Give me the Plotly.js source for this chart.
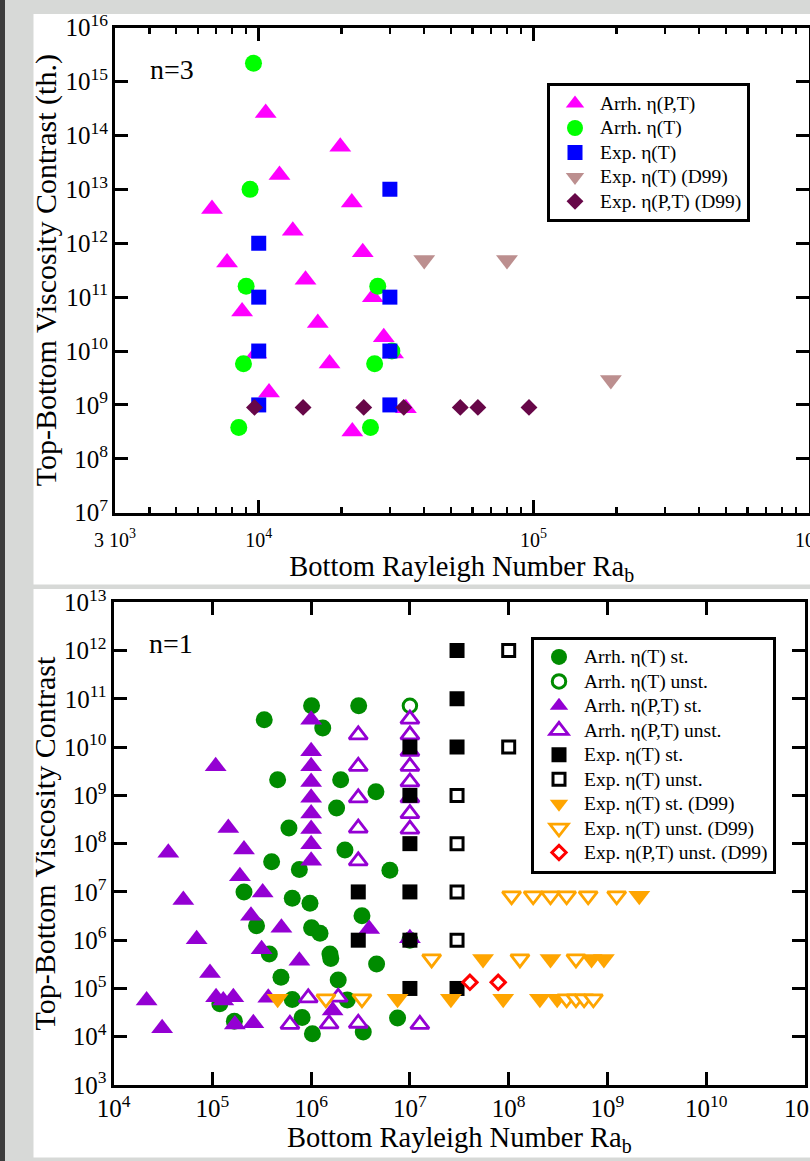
<!DOCTYPE html>
<html>
<head>
<meta charset="utf-8">
<script src="https://cdn.plot.ly/plotly-3.0.1.min.js"></script>
<style>
html,body{margin:0;padding:0;background:#d7d9d7;}
#chart{width:810px;height:1161px;}
</style>
</head>
<body>
<div id="chart"></div>
<script>
// ---------------- DATA : n = 3 (top panel) ----------------
const n3_arrhPT_ra   = [10600, 19800, 11900, 6760, 21800, 13300, 23900, 7670, 14800, 26000, 8700, 16400, 28500, 9800, 30800, 18100, 10900, 34300, 21900];
const n3_arrhPT_visc = [2.6e14, 6.2e13, 1.85e13, 4.3e12, 5.7e12, 1.7e12, 6.8e11, 4.4e11, 2.1e11, 1.0e11, 5.4e10, 3.3e10, 1.8e10, 9.0e9, 9.0e9, 5.9e9, 1.7e9, 8.7e8, 3.2e8];

const n3_arrhT_ra    = [9570, 9300, 9000, 27100, 30500, 8800, 26400, 8460, 25500];
const n3_arrhT_visc  = [2.2e15, 1.0e13, 1.6e11, 1.6e11, 1.0e10, 5.8e9, 5.8e9, 3.8e8, 3.8e8];

const n3_expT_ra     = [1e4, 1e4, 1e4, 1e4, 3e4, 3e4, 3e4, 3e4];
const n3_expT_visc   = [1e12, 1e11, 1e10, 1e9, 1e13, 1e11, 1e10, 1e9];

const n3_expTD99_ra   = [40000, 80000, 191000];
const n3_expTD99_visc = [4.9e11, 4.9e11, 2.9e9];

const n3_expPTD99_ra   = [9650, 14500, 24100, 33700, 54100, 62700, 96200];
const n3_expPTD99_visc = [9e8, 9e8, 9e8, 9e8, 9e8, 9e8, 9e8];

// ---------------- DATA : n = 1 (bottom panel) ----------------
const n1_arrhT_st_ra   = [3.35e5, 1.01e6, 1.31e6, 3.03e6, 4.58e5, 1.99e6, 4.53e6, 1.81e6, 5.96e5, 3.98e5, 7.6e5, 2.2e6, 6.27e6, 2.09e5, 6.44e5, 9.73e5, 3.27e6, 2.8e5, 1.01e6, 1.23e6, 1e7, 3.77e5, 1.55e6, 1.58e6, 4.6e6, 4.95e5, 1.88e6, 1.19e5, 6.44e5, 2.32e6, 8.1e5, 7.5e6, 1.67e5, 1.03e6, 3.37e6];
const n1_arrhT_st_visc = [3.7e10, 7.2e10, 2.5e10, 7.2e10, 2.1e9, 2.1e9, 1.19e9, 5.5e8, 2.1e8, 4.2e7, 2.9e7, 7.4e7, 2.8e7, 1e7, 7.4e6, 5.8e6, 3.2e6, 2.0e6, 1.8e6, 1.4e6, 1e6, 5.2e5, 5.2e5, 4.2e5, 3.2e5, 1.7e5, 1.5e5, 4.8e4, 5.9e4, 5.8e4, 2.5e4, 2.45e4, 2.1e4, 1.15e4, 1.25e4];

const n1_arrhT_un_ra   = [1e7];
const n1_arrhT_un_visc = [7.2e10];

const n1_arrhPT_st_ra   = [1e6, 1e6, 1e6, 1e6, 1e6, 1e6, 1e6, 1e6, 1e6, 1.08e5, 1.45e5, 3.58e4, 2.09e5, 1.9e5, 5.08e4, 3.23e5, 2.46e5, 6.93e4, 5.0e5, 3.87e6, 1e7, 9.46e4, 3.15e5, 7.6e5, 2.16e4, 1.09e5, 1.29e5, 1.63e5, 3.68e5, 1.65e6, 1.69e5, 2.6e5, 3.1e4];
const n1_arrhPT_st_visc = [3.7e10, 8.2e9, 4.0e9, 1.9e9, 8.9e8, 4.2e8, 2.0e8, 9.7e7, 4.4e7, 4.0e9, 2.1e8, 6.5e7, 7.6e7, 2.1e7, 6.8e6, 9.7e6, 3.2e6, 1.05e6, 1.8e6, 1.7e6, 1.1e6, 2.1e5, 6.5e5, 3.75e5, 5.6e4, 6.6e4, 5.6e4, 6.6e4, 6.4e4, 3.5e4, 1.8e4, 1.9e4, 1.5e4];

const n1_arrhPT_un_ra   = [3e6, 3e6, 3e6, 3e6, 3e6, 1e7, 1e7, 1e7, 1e7, 1e7, 1e7, 1e7, 1e7, 9.35e5, 1.88e6, 6.1e5, 1.52e6, 3.0e6, 1.26e7];
const n1_arrhPT_un_visc = [1.8e10, 4.0e9, 8.9e8, 2.1e8, 4.4e7, 3.8e10, 1.8e10, 8.2e9, 4.0e9, 1.9e9, 8.9e8, 4.2e8, 2.0e8, 6.4e4, 6.6e4, 1.8e4, 1.85e4, 1.9e4, 1.8e4];

const n1_expT_st_ra   = [3e6, 3e6, 1e7, 1e7, 1e7, 1e7, 1e7, 1e7, 3e7, 3e7, 3e7, 3e7];
const n1_expT_st_visc = [1e7, 1e6, 1e10, 1e9, 1e8, 1e7, 1e6, 1e5, 1e12, 1e11, 1e10, 1e5];

const n1_expT_un_ra   = [3e7, 3e7, 3e7, 3e7, 1e8, 1e8];
const n1_expT_un_visc = [1e9, 1e8, 1e7, 1e6, 1e12, 1e10];

const n1_expTD99_st_ra   = [4.58e5, 7.5e6, 2.6e7, 8.8e7, 2.07e8, 3.1e8, 5.5e7, 2.65e8, 6.9e8, 9.2e8, 2.1e9];
const n1_expTD99_st_visc = [6.1e4, 6.1e4, 6.1e4, 6.1e4, 6.1e4, 6.1e4, 4.1e5, 4.1e5, 4.1e5, 4.1e5, 8.3e6];

const n1_expTD99_un_ra   = [1.41e6, 3.27e6, 3.86e8, 4.8e8, 5.8e8, 7.2e8, 1.66e7, 1.3e8, 4.8e8, 1.07e8, 1.77e8, 2.65e8, 3.86e8, 6.38e8, 1.24e9];
const n1_expTD99_un_visc = [6.1e4, 6.1e4, 6.1e4, 6.1e4, 6.1e4, 6.1e4, 4.1e5, 4.1e5, 4.1e5, 8.3e6, 8.3e6, 8.3e6, 8.3e6, 8.3e6, 8.3e6];

const n1_expPTD99_un_ra   = [4.05e7, 7.83e7];
const n1_expPTD99_un_visc = [1.34e5, 1.34e5];

// ---------------- TICK LABELS ----------------
const topXTickVals  = [3000, 1e4, 1e5, 1e6];
const topXTickText  = ['3 10<sup>3</sup>', '10<sup>4</sup>', '10<sup>5</sup>', '10<sup>6</sup>'];
const topXMinorVals = [4000, 5000, 6000, 7000, 8000, 9000, 2e4, 3e4, 4e4, 5e4, 6e4, 7e4, 8e4, 9e4, 2e5, 3e5, 4e5, 5e5, 6e5, 7e5, 8e5, 9e5];

// ---------------- LAYOUT HELPERS ----------------
const W = 810, H = 1161;
const FONT = 'Liberation Serif, Times New Roman, serif';
const fx = p => p / W;
const fy = p => 1 - p / H;
const legName = s => '<span style="font-size:19.5px">' + s + '</span>';

function axisStyle(extra) {
  return Object.assign({
    type: 'log',
    showline: true, linewidth: 3, linecolor: 'black',
    mirror: 'allticks',
    ticks: 'inside', ticklen: 13, tickwidth: 3, tickcolor: 'black',
    showgrid: false, zeroline: false,
    exponentformat: 'power',
    ticklabeloverflow: 'allow',
    tickfont: {family: FONT, size: 20, color: 'black'}
  }, extra);
}

function mk(name, x, y, symbol, color, size, open, lw, xa, ya, leg) {
  const marker = open
    ? {symbol: symbol, size: size, color: 'white', line: {color: color, width: lw}}
    : {symbol: symbol, size: size, color: color, line: {width: 0}};
  return {type: 'scatter', mode: 'markers', name: legName(name), x: x, y: y,
          marker: marker, xaxis: xa, yaxis: ya, legend: leg, hoverinfo: 'skip'};
}

const traces = [
  mk('Arrh. η(P,T)', n3_arrhPT_ra, n3_arrhPT_visc, 'triangle-up', '#ff00ff', 19, false, 0, 'x', 'y', 'legend'),
  mk('Arrh. η(T)', n3_arrhT_ra, n3_arrhT_visc, 'circle', '#00ff00', 17, false, 0, 'x', 'y', 'legend'),
  mk('Exp. η(T)', n3_expT_ra, n3_expT_visc, 'square', '#0000ff', 15, false, 0, 'x', 'y', 'legend'),
  mk('Exp. η(T) (D99)', n3_expTD99_ra, n3_expTD99_visc, 'triangle-down', '#bc8f8f', 19, false, 0, 'x', 'y', 'legend'),
  mk('Exp. η(P,T) (D99)', n3_expPTD99_ra, n3_expPTD99_visc, 'diamond', '#670748', 13, false, 0, 'x', 'y', 'legend'),

  mk('Arrh. η(T) st.', n1_arrhT_st_ra, n1_arrhT_st_visc, 'circle', '#008b00', 17, false, 0, 'x2', 'y2', 'legend2'),
  mk('Arrh. η(T) unst.', n1_arrhT_un_ra, n1_arrhT_un_visc, 'circle', '#008b00', 13.5, true, 3, 'x2', 'y2', 'legend2'),
  mk('Arrh. η(P,T) st.', n1_arrhPT_st_ra, n1_arrhPT_st_visc, 'triangle-up', '#9400d3', 19, false, 0, 'x2', 'y2', 'legend2'),
  mk('Arrh. η(P,T) unst.', n1_arrhPT_un_ra, n1_arrhPT_un_visc, 'triangle-up', '#9400d3', 16, true, 2.8, 'x2', 'y2', 'legend2'),
  mk('Exp. η(T) st.', n1_expT_st_ra, n1_expT_st_visc, 'square', 'black', 15, false, 0, 'x2', 'y2', 'legend2'),
  mk('Exp. η(T) unst.', n1_expT_un_ra, n1_expT_un_visc, 'square', 'black', 12, true, 3, 'x2', 'y2', 'legend2'),
  mk('Exp. η(T) st. (D99)', n1_expTD99_st_ra, n1_expTD99_st_visc, 'triangle-down', '#ffa500', 19, false, 0, 'x2', 'y2', 'legend2'),
  mk('Exp. η(T) unst. (D99)', n1_expTD99_un_ra, n1_expTD99_un_visc, 'triangle-down', '#ffa500', 16, true, 2.8, 'x2', 'y2', 'legend2'),
  mk('Exp. η(P,T) unst. (D99)', n1_expPTD99_un_ra, n1_expPTD99_un_visc, 'diamond', '#ff0000', 11, true, 3, 'x2', 'y2', 'legend2')
];

const legendStyle = {
  xanchor: 'left', yanchor: 'top',
  bgcolor: 'white', bordercolor: 'black', borderwidth: 3,
  font: {family: FONT, size: 16.5, color: 'black'},
  itemsizing: 'trace', itemwidth: 40, tracegroupgap: 0, orientation: 'v'
};

const titleFontX = {family: FONT, size: 28.5, color: 'black'};
const titleFontY = {family: FONT, size: 30, color: 'black'};

const layout = {
  width: W, height: H,
  margin: {l: 0, r: 0, t: 0, b: 0},
  paper_bgcolor: '#d7d9d7',
  plot_bgcolor: 'white',
  showlegend: true,
  hovermode: false,
  font: {family: FONT, color: 'black'},
  xaxis: axisStyle({
    domain: [fx(115), fx(808.5)], anchor: 'y',
    range: [Math.log10(3000), 6],
    tickmode: 'array', tickvals: topXTickVals, ticktext: topXTickText,
    ticklabelstandoff: 7,
    minor: {ticks: 'inside', ticklen: 6, tickwidth: 2.5, tickcolor: 'black',
            tickmode: 'array', tickvals: topXMinorVals, showgrid: false},
    title: {text: 'Bottom Rayleigh Number Ra<sub>b</sub>', font: titleFontX, standoff: 0}
  }),
  yaxis: axisStyle({
    domain: [fy(512.7), fy(27.7)], anchor: 'x',
    range: [7, 16], dtick: 1,
    title: {text: 'Top-Bottom Viscosity Contrast (th.)', font: titleFontY, standoff: 0}
  }),
  xaxis2: axisStyle({
    domain: [fx(113.6), fx(805)], anchor: 'y2',
    range: [4, 11], dtick: 1,
    title: {text: 'Bottom Rayleigh Number Ra<sub>b</sub>', font: titleFontX, standoff: 7}
  }),
  yaxis2: axisStyle({
    domain: [fy(1085), fy(602.3)], anchor: 'x2',
    range: [3, 13], dtick: 1,
    title: {text: 'Top-Bottom Viscosity Contrast', font: titleFontY, standoff: 0}
  }),
  legend: Object.assign({x: fx(547), y: fy(83.3)}, legendStyle),
  legend2: Object.assign({x: fx(531), y: fy(636.7)}, legendStyle),
  annotations: [
    {xref: 'paper', yref: 'paper', x: fx(172), y: fy(70), text: 'n=3', showarrow: false,
     font: {family: FONT, size: 28, color: 'black'}, xanchor: 'center', yanchor: 'middle'},
    {xref: 'paper', yref: 'paper', x: fx(171), y: fy(643), text: 'n=1', showarrow: false,
     font: {family: FONT, size: 28, color: 'black'}, xanchor: 'center', yanchor: 'middle'}
  ],
  shapes: [
    {type: 'rect', xref: 'paper', yref: 'paper', x0: 0, x1: fx(5), y0: 0, y1: 1,
     fillcolor: '#3c3c3c', line: {width: 0}, layer: 'below'},
    {type: 'rect', xref: 'paper', yref: 'paper', x0: fx(33.5), x1: 1, y0: fy(584.5), y1: fy(14),
     fillcolor: 'white', line: {width: 0}, layer: 'below'},
    {type: 'rect', xref: 'paper', yref: 'paper', x0: fx(33.5), x1: 1, y0: fy(1157.5), y1: fy(589),
     fillcolor: 'white', line: {width: 0}, layer: 'below'}
  ]
};

Plotly.newPlot('chart', traces, layout, {displayModeBar: false, staticPlot: true});
</script>
</body>
</html>
